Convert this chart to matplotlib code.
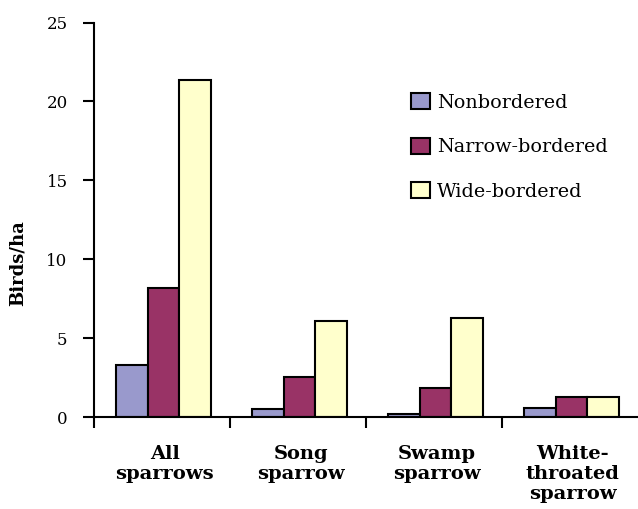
import matplotlib
matplotlib.use("Agg")
import matplotlib.pyplot as plt
import numpy as np
from matplotlib.patches import Patch

categories = ["All\nsparrows", "Song\nsparrow", "Swamp\nsparrow", "White-\nthroated\nsparrow"]
series_names = ["Nonbordered", "Narrow-bordered", "Wide-bordered"]
nonbordered = [3.3, 0.5, 0.2, 0.6]
narrow = [8.15, 2.55, 1.85, 1.25]
wide = [21.35, 6.1, 6.25, 1.25]
colors = ["#9999CC", "#993366", "#FFFFCC"]
yticks = [0, 5, 10, 15, 20, 25]

plt.rcParams['font.family'] = ['DejaVu Serif']

fig = plt.figure(figsize=(6.38, 5.09), dpi=100)
ax = fig.add_axes([94/638, 92/509, 544/638, 394.5/509])

x = np.arange(len(categories))
w = 0.232
for i, (vals, c, name) in enumerate(zip([nonbordered, narrow, wide], colors, series_names)):
    ax.bar(x + (i - 1) * w + 0.01, vals, width=w, color=c, edgecolor="black", linewidth=1.5, label=name)

ax.set_ylim(0, 25)
ax.set_xlim(-0.5, 3.5)
ax.set_yticks(yticks)
ax.set_yticklabels([str(t) for t in yticks], fontsize=12)
ax.tick_params(axis='y', length=8, width=1.5, direction='out', pad=11)
ax.set_xticks(np.arange(-0.5, 3.0, 1.0))
ax.set_xticklabels([])
ax.tick_params(axis='x', length=8, width=1.5, direction='out')
for xi, lab in zip(x, categories):
    ax.text(xi + 0.02, -1.75, lab, ha='center', va='top', fontsize=14, fontweight='bold',
            linespacing=1.16, transform=ax.transData)
for s in ['top', 'right']:
    ax.spines[s].set_visible(False)
ax.spines['left'].set_linewidth(1.5)
ax.spines['bottom'].set_linewidth(1.5)
ax.set_ylabel("Birds/ha", fontsize=13, fontweight='bold')
ax.yaxis.set_label_coords(-0.124, 0.39)

handles = [Patch(facecolor=c, edgecolor='black', linewidth=1.5) for c in colors]
ax.legend(handles, series_names, loc='upper left', bbox_to_anchor=(0.551, 0.865), frameon=False,
          fontsize=13.8, handlelength=1.0, handleheight=0.9, handletextpad=0.37, labelspacing=1.36)

fig.savefig("out.png", dpi=100)
